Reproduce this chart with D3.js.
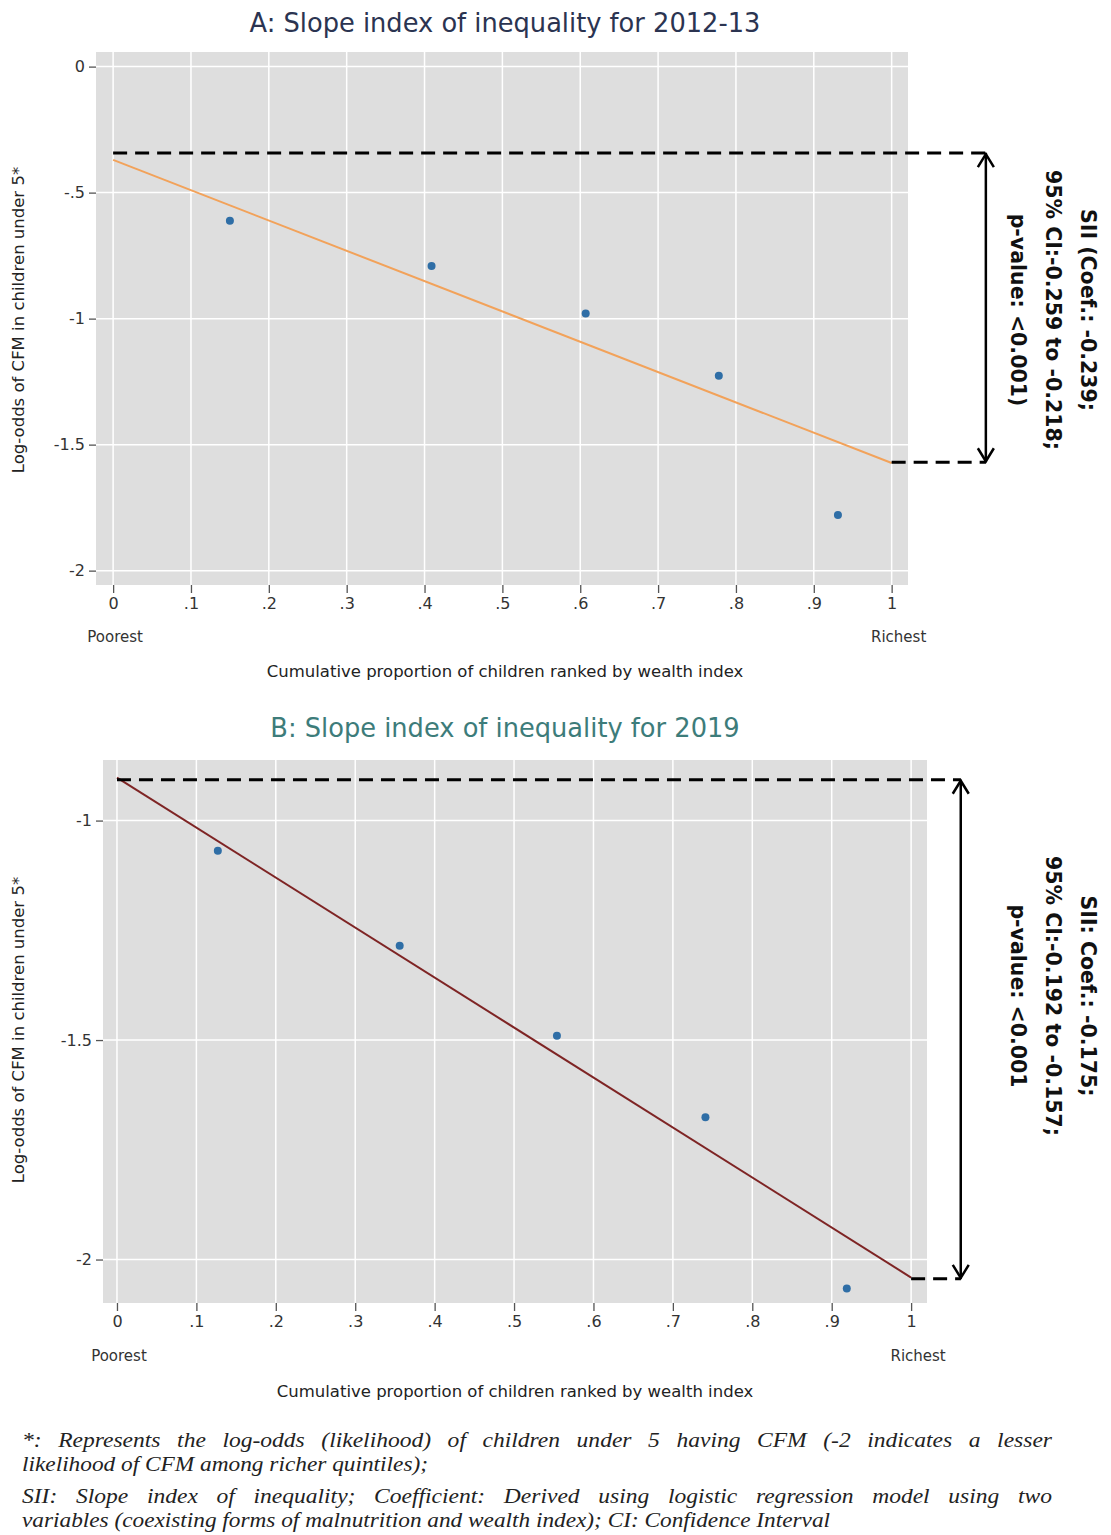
<!DOCTYPE html>
<html>
<head>
<meta charset="utf-8">
<script src="https://cdn.jsdelivr.net/npm/d3@7"></script>
<style>
  body { margin: 0; background: #fff; }
  svg { display: block; }
</style>
</head>
<body>
<svg id="chart" width="1111" height="1535"></svg>
<script>
// data
const xTicks = [0, .1, .2, .3, .4, .5, .6, .7, .8, .9, 1];
const yTicksA = [0, -.5, -1, -1.5, -2];
const yTicksB = [-1, -1.5, -2];

const cumPropA = [0.150, 0.409, 0.607, 0.778, 0.931];
const logOddsA = [-0.612, -0.791, -0.980, -1.227, -1.779];
const cumPropB = [0.127, 0.356, 0.554, 0.741, 0.919];
const logOddsB = [-1.069, -1.285, -1.490, -1.676, -2.066];

// fitted line at x = 0 and x = 1
const fitA = [-0.370, -1.573];
const fitB = [-0.902, -2.041];

// SII bracket (top level, bottom level, x position)
const bracketA = [-0.343, -1.570, 1.121];
const bracketB = [-0.907, -2.044, 1.0625];

const noteA = ['SII (Coef.: -0.239;', '95% CI:-0.259 to -0.218;', 'p-value: <0.001)'];
const noteB = ['SII: Coef.: -0.175;', '95% CI:-0.192 to -0.157;', 'p-value: <0.001'];

const footLines = [
  '*: Represents the log-odds (likelihood) of children under 5 having CFM (-2 indicates a lesser',
  'likelihood of CFM among richer quintiles);',
  'SII: Slope index of inequality; Coefficient: Derived using logistic regression model using two',
  'variables (coexisting forms of malnutrition and wealth index); CI: Confidence Interval'
];

const svg = d3.select('#chart');
const font = 'Tahoma, "DejaVu Sans", Verdana, sans-serif';

const panels = [
  {
    title: 'A: Slope index of inequality for 2012-13', titleColor: '#2b3451', titleY: 32,
    box: {left: 96, right: 908, top: 52, bottom: 585},
    xDomain: [-0.022, 1.021], yDomain: [-2.057, 0.058],
    yTicks: yTicksA, xs: cumPropA, ys: logOddsA, fit: fitA, lineColor: '#f2a25a',
    bracket: bracketA, note: noteA, noteY: 310,
    endY: 642, xTitleY: 677, xTitleX: 505, yTitleY: 320
  },
  {
    title: 'B: Slope index of inequality for 2019', titleColor: '#3d7c7a', titleY: 737,
    box: {left: 103, right: 927, top: 760, bottom: 1303},
    xDomain: [-0.0176, 1.020], yDomain: [-2.099, -0.862],
    yTicks: yTicksB, xs: cumPropB, ys: logOddsB, fit: fitB, lineColor: '#7e2424',
    bracket: bracketB, note: noteB, noteY: 996,
    endY: 1361, xTitleY: 1397, xTitleX: 515, yTitleY: 1030
  }
];

const fmt = d => d === 0 ? '0' : String(d).replace('0.', '.');

function chevron(g, x, y, dir) {
  // open arrow head, dir = -1 up, 1 down
  g.append('path')
    .attr('d', `M${x - 8},${y - dir * 13}L${x},${y}L${x + 8},${y - dir * 13}`)
    .attr('fill', 'none').attr('stroke', '#000').attr('stroke-width', 2.5);
}

function drawPanel(p) {
  const x = d3.scaleLinear().domain(p.xDomain).range([p.box.left, p.box.right]);
  const y = d3.scaleLinear().domain(p.yDomain).range([p.box.bottom, p.box.top]);
  const g = svg.append('g');

  g.append('text')
    .attr('x', 505).attr('y', p.titleY)
    .attr('text-anchor', 'middle')
    .attr('font-family', font).attr('font-size', 25.7)
    .attr('fill', p.titleColor)
    .text(p.title);

  g.append('rect')
    .attr('x', p.box.left).attr('y', p.box.top)
    .attr('width', p.box.right - p.box.left).attr('height', p.box.bottom - p.box.top)
    .attr('fill', '#dedede');

  // grid
  g.append('g').selectAll('line').data(xTicks).join('line')
    .attr('x1', d => x(d)).attr('x2', d => x(d))
    .attr('y1', p.box.top).attr('y2', p.box.bottom)
    .attr('stroke', '#fff').attr('stroke-width', 1.5);
  g.append('g').selectAll('line').data(p.yTicks).join('line')
    .attr('x1', p.box.left).attr('x2', p.box.right)
    .attr('y1', d => y(d)).attr('y2', d => y(d))
    .attr('stroke', '#fff').attr('stroke-width', 1.5);

  const xAxis = g.append('g')
    .attr('transform', `translate(0,${p.box.bottom})`)
    .call(d3.axisBottom(x).tickValues(xTicks).tickFormat(fmt).tickSize(8).tickPadding(5));
  const yAxis = g.append('g')
    .attr('transform', `translate(${p.box.left},0)`)
    .call(d3.axisLeft(y).tickValues(p.yTicks).tickFormat(fmt).tickSize(7).tickPadding(4));
  [xAxis, yAxis].forEach(a => {
    a.select('.domain').remove();
    a.selectAll('.tick line').attr('stroke', '#555').attr('stroke-width', 1.3);
    a.selectAll('.tick text').attr('font-family', font).attr('font-size', 16).attr('fill', '#333');
  });

  g.append('text').attr('x', x(0) + 2).attr('y', p.endY)
    .attr('text-anchor', 'middle').attr('font-family', font).attr('font-size', 15).attr('fill', '#333')
    .text('Poorest');
  g.append('text').attr('x', x(1) + 7).attr('y', p.endY)
    .attr('text-anchor', 'middle').attr('font-family', font).attr('font-size', 15).attr('fill', '#333')
    .text('Richest');

  g.append('text').attr('x', p.xTitleX).attr('y', p.xTitleY)
    .attr('text-anchor', 'middle').attr('font-family', font).attr('font-size', 16.5).attr('fill', '#222')
    .text('Cumulative proportion of children ranked by wealth index');
  g.append('text')
    .attr('transform', `translate(19,${p.yTitleY}) rotate(-90)`)
    .attr('text-anchor', 'middle').attr('dominant-baseline', 'middle')
    .attr('font-family', font).attr('font-size', 16.5).attr('fill', '#222')
    .text('Log-odds of CFM in children under 5*');

  // fitted line
  const line = d3.line().x(d => x(d[0])).y(d => y(d[1]));
  const fitPts = [[0, p.fit[0]], [1, p.fit[1]]];
  g.append('path').datum(fitPts).attr('d', line)
    .attr('fill', 'none').attr('stroke', p.lineColor).attr('stroke-width', 2);

  // quintile points
  g.append('g').selectAll('circle').data(p.xs.map((v, i) => [v, p.ys[i]])).join('circle')
    .attr('cx', d => x(d[0])).attr('cy', d => y(d[1])).attr('r', 4)
    .attr('fill', '#2f6ea6');

  // bracket
  const [top, bot, bx] = p.bracket;
  g.append('line')
    .attr('x1', x(0)).attr('x2', x(bx)).attr('y1', y(top)).attr('y2', y(top))
    .attr('stroke', '#000').attr('stroke-width', 3).attr('stroke-dasharray', '14,8');
  g.append('line')
    .attr('x1', x(1)).attr('x2', x(bx)).attr('y1', y(bot)).attr('y2', y(bot))
    .attr('stroke', '#000').attr('stroke-width', 3).attr('stroke-dasharray', '14,8');
  g.append('line')
    .attr('x1', x(bx)).attr('x2', x(bx)).attr('y1', y(top)).attr('y2', y(bot))
    .attr('stroke', '#000').attr('stroke-width', 2.5);
  chevron(g, x(bx), y(top) + 1, -1);
  chevron(g, x(bx), y(bot) - 1, 1);

  // rotated note
  const noteX = [1087, 1052, 1017];
  p.note.forEach((t, i) => {
    g.append('text')
      .attr('transform', `translate(${noteX[i]},${p.noteY}) rotate(90)`)
      .attr('text-anchor', 'middle').attr('dominant-baseline', 'middle')
      .attr('font-family', font).attr('font-size', 20.5).attr('font-weight', 'bold').attr('fill', '#111')
      .text(t);
  });
}

panels.forEach(drawPanel);

// footnote: lines 1 and 3 justified, 2 and 4 left
const footY = [1447, 1471, 1503, 1527];
const footEnd = [1052, 428, 1052, 830];
const footG = svg.append('g')
  .attr('font-family', '"Liberation Serif", "DejaVu Serif", serif')
  .attr('font-style', 'italic').attr('font-size', 21).attr('fill', '#222');
footLines.forEach((t, i) => {
  if (i % 2 === 1) {
    footG.append('text').attr('x', 22).attr('y', footY[i])
      .attr('textLength', footEnd[i] - 22).attr('lengthAdjust', 'spacingAndGlyphs')
      .text(t);
    return;
  }
  const words = t.split(' ');
  const tmp = footG.append('text').attr('x', 0).attr('y', -100);
  const widths = words.map(w => { tmp.text(w); return tmp.node().getComputedTextLength() * 1.12; });
  tmp.remove();
  const gap = (footEnd[i] - 22 - d3.sum(widths)) / (words.length - 1);
  let cx = 22;
  words.forEach((w, j) => {
    footG.append('text').attr('x', cx).attr('y', footY[i])
      .attr('textLength', widths[j]).attr('lengthAdjust', 'spacingAndGlyphs')
      .text(w);
    cx += widths[j] + gap;
  });
});
</script>
</body>
</html>
